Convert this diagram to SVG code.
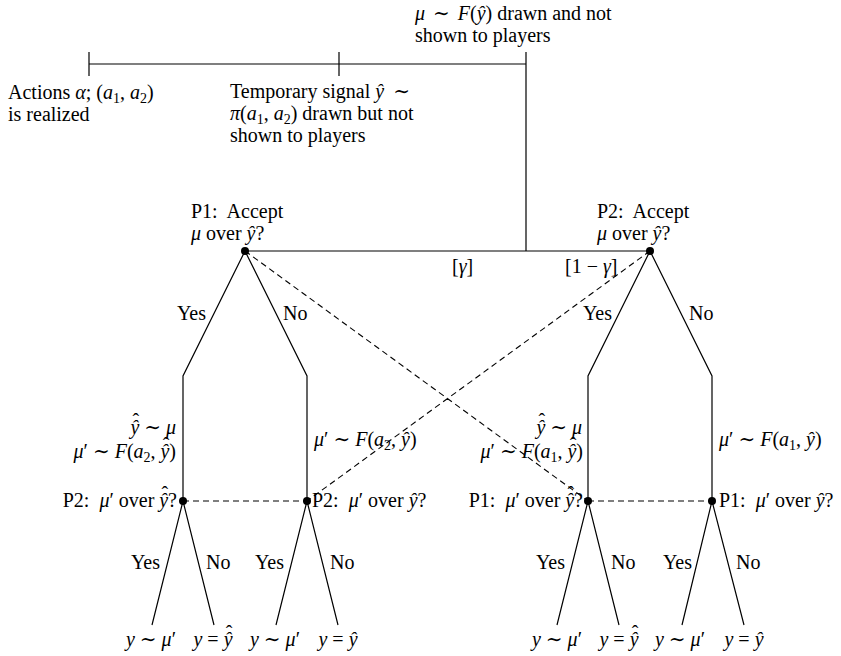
<svg xmlns="http://www.w3.org/2000/svg" width="841" height="656" viewBox="0 0 841 656">
<style>
text{font-family:"Liberation Serif","DejaVu Serif",serif;font-size:20px;fill:#000}
.i{font-style:italic}
.s{font-size:14px;font-style:normal}
.e{text-anchor:end}
.c{text-anchor:middle}
.ln{stroke:#000;stroke-width:1.2;fill:none}
.ds{stroke:#000;stroke-width:1.1;fill:none;stroke-dasharray:6 4}
.dot{fill:#000}
</style>
<rect width="841" height="656" fill="#fff"/>
<g id="connectors">
<path class="ln" d="M89,64H526M89,52V76M339,52V76M526,52V251"/>
<path class="ln" d="M245,251H650"/>
<path class="ln" d="M245,251L183,376V501M245,251L307,376V501"/>
<path class="ln" d="M650,251L588,376V501M650,251L712,376V501"/>
<path class="ln" d="M183,501L152,625M183,501L214,625M307,501L276,625M307,501L338,625"/>
<path class="ln" d="M588,501L557,625M588,501L619,625M712,501L682,625M712,501L744,625"/>
<path class="ds" d="M245,251L588,501M650,251L307,501M183,501H307M588,501H712"/>
</g>
<g id="timeline-labels">
<text x="415" y="20"><tspan class="i">μ</tspan><tspan dx="3"> ∼ </tspan><tspan class="i" dx="3">F</tspan>(<tspan class="i">ŷ</tspan>) drawn and not</text>
<text x="415" y="42">shown to players</text>
<text x="8" y="99">Actions <tspan class="i">α</tspan>; (<tspan class="i">a</tspan><tspan class="s" style="baseline-shift:-4px">1</tspan>, <tspan class="i">a</tspan><tspan class="s" style="baseline-shift:-4px">2</tspan>)</text>
<text x="8" y="121">is realized</text>
<text x="230" y="98">Temporary signal <tspan class="i">ŷ</tspan><tspan dx="4"> ∼</tspan></text>
<text x="230" y="120"><tspan class="i">π</tspan>(<tspan class="i">a</tspan><tspan class="s" style="baseline-shift:-4px">1</tspan>, <tspan class="i">a</tspan><tspan class="s" style="baseline-shift:-4px">2</tspan>) drawn but not</text>
<text x="230" y="142">shown to players</text>
</g>
<g id="p1-accept">
<circle class="dot" cx="245" cy="251" r="4"/>
<text x="191" y="218">P1:&#160; Accept</text>
<text x="191" y="240"><tspan class="i">μ</tspan> over <tspan class="i">ŷ</tspan>?</text>
<text x="452" y="273">[<tspan class="i">γ</tspan>]</text>
<text x="206" y="320" class="e">Yes</text>
<text x="283" y="320">No</text>
</g>
<g id="p2-accept">
<circle class="dot" cx="650" cy="251" r="4"/>
<text x="597" y="218">P2:&#160; Accept</text>
<text x="597" y="240"><tspan class="i">μ</tspan> over <tspan class="i">ŷ</tspan>?</text>
<text x="565" y="273">[1 − <tspan class="i">γ</tspan>]</text>
<text x="612" y="320" class="e">Yes</text>
<text x="689" y="320">No</text>
</g>
<g id="p1-yes-branch">
<text x="176" y="434" class="e"><tspan class="i">ŷ</tspan><tspan dx="-6.8" dy="-6">ˆ</tspan><tspan dy="6"> ∼ </tspan><tspan class="i">μ</tspan></text>
<text x="176" y="458" class="e"><tspan class="i">μ</tspan>′ ∼ <tspan class="i">F</tspan>(<tspan class="i">a</tspan><tspan class="s" style="baseline-shift:-4px">2</tspan>, <tspan class="i">ŷ</tspan><tspan dx="-6.8" dy="-6">ˆ</tspan><tspan dy="6">)</tspan></text>
</g>
<g id="p1-no-branch">
<text x="314" y="446"><tspan class="i">μ</tspan>′ ∼ <tspan class="i">F</tspan>(<tspan class="i">a</tspan><tspan class="s" style="baseline-shift:-4px">2</tspan>, <tspan class="i">ŷ</tspan>)</text>
</g>
<g id="p2-yes-branch">
<text x="582" y="434" class="e"><tspan class="i">ŷ</tspan><tspan dx="-6.8" dy="-6">ˆ</tspan><tspan dy="6"> ∼ </tspan><tspan class="i">μ</tspan></text>
<text x="583" y="458" class="e"><tspan class="i">μ</tspan>′ ∼ <tspan class="i">F</tspan>(<tspan class="i">a</tspan><tspan class="s" style="baseline-shift:-4px">1</tspan>, <tspan class="i">ŷ</tspan><tspan dx="-6.8" dy="-6">ˆ</tspan><tspan dy="6">)</tspan></text>
</g>
<g id="p2-no-branch">
<text x="719" y="446"><tspan class="i">μ</tspan>′ ∼ <tspan class="i">F</tspan>(<tspan class="i">a</tspan><tspan class="s" style="baseline-shift:-4px">1</tspan>, <tspan class="i">ŷ</tspan>)</text>
</g>
<g id="n-p2-a">
<circle class="dot" cx="183" cy="501" r="4"/>
<text x="177" y="507" class="e">P2:&#160; <tspan class="i">μ</tspan>′ over <tspan class="i">ŷ</tspan><tspan dx="-6.8" dy="-6">ˆ</tspan><tspan dy="6">?</tspan></text>
<text x="160" y="569" class="e">Yes</text>
<text x="206" y="569">No</text>
<text x="151" y="646" class="c"><tspan class="i">y</tspan> ∼ <tspan class="i">μ</tspan>′</text>
<text x="213" y="646" class="c"><tspan class="i">y</tspan> = <tspan class="i">ŷ</tspan><tspan dx="-6.8" dy="-6">ˆ</tspan></text>
</g>
<g id="n-p2-b">
<circle class="dot" cx="307" cy="501" r="4"/>
<text x="312" y="507">P2:&#160; <tspan class="i">μ</tspan>′ over <tspan class="i">ŷ</tspan>?</text>
<text x="284" y="569" class="e">Yes</text>
<text x="330" y="569">No</text>
<text x="275" y="646" class="c"><tspan class="i">y</tspan> ∼ <tspan class="i">μ</tspan>′</text>
<text x="338" y="646" class="c"><tspan class="i">y</tspan> = <tspan class="i">ŷ</tspan></text>
</g>
<g id="n-p1-a">
<circle class="dot" cx="588" cy="501" r="4"/>
<text x="583" y="507" class="e">P1:&#160; <tspan class="i">μ</tspan>′ over <tspan class="i">ŷ</tspan><tspan dx="-6.8" dy="-6">ˆ</tspan><tspan dy="6">?</tspan></text>
<text x="565" y="569" class="e">Yes</text>
<text x="611" y="569">No</text>
<text x="557" y="646" class="c"><tspan class="i">y</tspan> ∼ <tspan class="i">μ</tspan>′</text>
<text x="619" y="646" class="c"><tspan class="i">y</tspan> = <tspan class="i">ŷ</tspan><tspan dx="-6.8" dy="-6">ˆ</tspan></text>
</g>
<g id="n-p1-b">
<circle class="dot" cx="712" cy="501" r="4"/>
<text x="719" y="507">P1:&#160; <tspan class="i">μ</tspan>′ over <tspan class="i">ŷ</tspan>?</text>
<text x="692" y="569" class="e">Yes</text>
<text x="736" y="569">No</text>
<text x="680" y="646" class="c"><tspan class="i">y</tspan> ∼ <tspan class="i">μ</tspan>′</text>
<text x="744" y="646" class="c"><tspan class="i">y</tspan> = <tspan class="i">ŷ</tspan></text>
</g>
</svg>
